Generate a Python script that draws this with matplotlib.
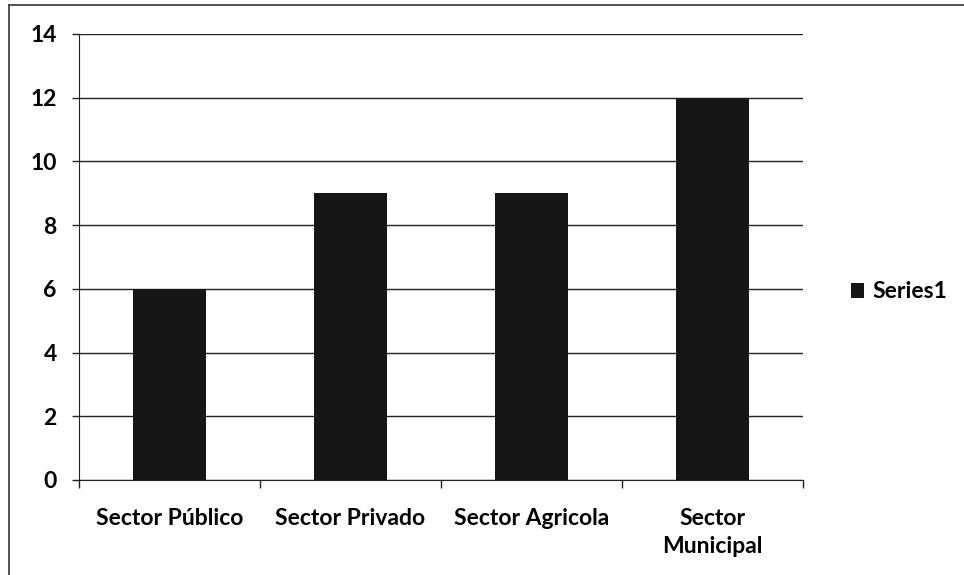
import matplotlib
matplotlib.use("Agg")
import matplotlib.pyplot as plt
from matplotlib.patches import Patch
from matplotlib.lines import Line2D

categories = ["Sector Público", "Sector Privado", "Sector Agricola", "Sector\nMunicipal"]
values = [6, 9, 9, 12]
series_name = "Series1"
yticks = [0, 2, 4, 6, 8, 10, 12, 14]

plt.rcParams['font.family'] = ['Lato', 'DejaVu Sans']
FS = 16.5

fig = plt.figure(figsize=(9.64, 5.75), dpi=100)
ax = fig.add_axes([79/964, 1-480/575, (803-79)/964, (480-34)/575])

x = list(range(len(categories)))
ax.bar(x, values, width=0.4, color="#161616", zorder=3, label=series_name)
ax.set_xlim(-0.5, len(categories) - 0.5)
ax.set_ylim(0, 14)
ax.set_yticks(yticks)
ax.set_yticklabels([str(v) for v in yticks], fontsize=FS, fontweight='bold')
ax.yaxis.grid(True, color="#222222", linewidth=1.0, zorder=0)
ax.set_xticks(x)
ax.set_xticklabels(categories, fontsize=FS, fontweight='bold', linespacing=1.45)
ax.set_xticks([i - 0.5 for i in range(len(categories) + 1)], minor=True)
ax.tick_params(axis='x', which='major', length=0, pad=20)
ax.tick_params(axis='x', which='minor', length=6, width=1, direction='out', color='#222222')
ax.tick_params(axis='y', length=5, width=1, direction='out', pad=11, color='#222222')
for s in ['top', 'right']:
    ax.spines[s].set_visible(False)
ax.spines['left'].set_color('#222222')
ax.spines['bottom'].set_color('#222222')

fig.legend(handles=[Patch(facecolor="#161616", label=series_name)],
           loc='center left', bbox_to_anchor=(830/964, 1-292/575),
           frameon=False, handlelength=0.6, handleheight=0.6,
           handletextpad=0.35, prop={'size': FS, 'weight': 'bold'})

fig.add_artist(Line2D([9/964, 9/964], [0, 1-5/575], transform=fig.transFigure,
                      color='#333333', linewidth=1.2))
fig.add_artist(Line2D([9/964, 1], [1-5/575, 1-5/575], transform=fig.transFigure,
                      color='#333333', linewidth=1.2))
fig.savefig("out.png", dpi=100, facecolor='white')
